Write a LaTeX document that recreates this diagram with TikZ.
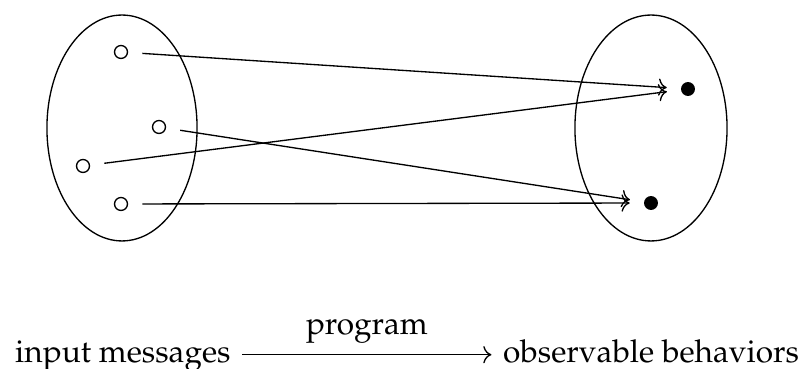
\documentclass[tikz,border=0pt]{standalone}
\usepackage[T1]{fontenc}
\usepackage{mathpazo}
\usepackage{tikz}
\usetikzlibrary{arrows.meta, positioning, calc}

\begin{document}
\begin{tikzpicture}[x=0.301pt, y=-0.301pt,
    msg/.style={circle, draw, inner sep=0pt, minimum size=3.9pt},
    obs/.style={circle, fill=black, inner sep=0pt, minimum size=4.2pt},
    link/.style={->, shorten <=4.3pt, shorten >=4.1pt},
    caption/.style={font=\fontsize{9.5pt}{11pt}\selectfont}]
    \useasboundingbox (0,0) rectangle (803,369);

    % Input set
    \draw (122,128) ellipse [x radius=22.6pt, y radius=34pt];
    \node[msg] (m1) at (121,52) {};
    \node[msg] (m2) at (159,127) {};
    \node[msg] (m3) at (83,166) {};
    \node[msg] (m4) at (121,204) {};

    % Behaviour set
    \draw (651,128) ellipse [x radius=22.9pt, y radius=34pt];
    \node[obs] (b1) at (688,89) {};
    \node[obs] (b2) at (651,203) {};

    % The program maps messages to behaviours
    \draw[link] (m1) -- (b1);
    \draw[link] (m3) -- (b1);
    \draw[link] (m2) -- (b2);
    \draw[link] (m4) -- (b2);

    % Caption
    \node[caption, anchor=base west] (src) at (3.5,363) {input messages};
    \node[caption, anchor=base west] (dst) at (491.5,363) {observable behaviors};
    \draw[->] ([yshift=2.5pt]src.base east) -- node[caption, above] {program} ([yshift=2.5pt]dst.base west);
\end{tikzpicture}
\end{document}
